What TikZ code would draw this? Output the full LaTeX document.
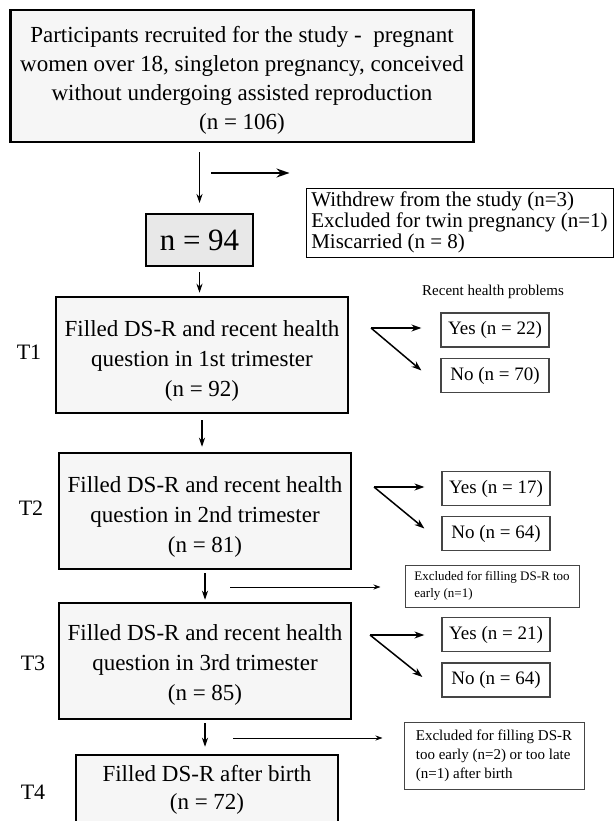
\documentclass[tikz,border=0pt]{standalone}
\usepackage{fontspec}
\setmainfont{Liberation Serif}
\usetikzlibrary{arrows.meta}
\definecolor{boxgray}{HTML}{F6F6F6}
\definecolor{ngray}{HTML}{E8E8E8}
\definecolor{thin}{HTML}{454545}
\newcommand{\fs}[2]{\fontsize{#1}{#2}\selectfont}
\newcommand{\dn}[1]{\rule{0pt}{#1}}

\begin{document}
\begin{tikzpicture}[x=1pt,y=-1pt]
  \useasboundingbox (0,0) rectangle (614,821);
  \clip (0,0) rectangle (614,821);

  \begin{scope}[every node/.style={draw, line width=2.5pt, fill=boxgray, align=center, inner sep=0pt, font=\fs{23}{30}}]
    \node[minimum width=463pt, minimum height=132pt, font=\fs{23}{29}] (rec) at (242,76) {\dn{24pt}Participants recruited for the study -\ \ pregnant\\women over 18, singleton pregnancy, conceived\\without undergoing assisted reproduction\\(n = 106)};
    \node[minimum width=107pt, minimum height=52pt, line width=2pt, fill=ngray, font=\fs{31}{36}] (n94) at (199.5,240) {n = 94};
    \node[minimum width=292pt, minimum height=116pt] (t1) at (202,355) {\dn{27pt}Filled DS-R and recent health\\question in 1st trimester\\(n = 92)};
    \node[minimum width=292pt, minimum height=116pt] (t2) at (205,511) {\dn{28pt}Filled DS-R and recent health\\question in 2nd trimester\\(n = 81)};
    \node[minimum width=292pt, minimum height=116pt] (t3) at (205,661) {\dn{24pt}Filled DS-R and recent health\\question in 3rd trimester\\(n = 85)};
    \node[minimum width=262pt, minimum height=70pt, font=\fs{23}{28}] (t4) at (207,790) {Filled DS-R after birth\\(n = 72)};
  \end{scope}

  \begin{scope}[every node/.style={font=\fs{22}{26}}]
    \node (l1) at (29,352) {T1};
    \node (l2) at (31,508) {T2};
    \node (l3) at (33,663) {T3};
    \node (l4) at (33,792) {T4};
  \end{scope}

  \node[font=\fs{15}{18}] (rhp) at (493,292) {Recent health problems};

  \begin{scope}[every node/.style={draw=thin, line width=1.2pt, minimum width=108pt, minimum height=34pt, inner sep=0pt, font=\fs{19}{22}}]
    \node (y1) at (495,330) {Yes (n = 22)};
    \node (no1) at (495,375.5) {No (n = 70)};
    \node (y2) at (496,488.5) {Yes (n = 17)};
    \node (no2) at (496,533.5) {No (n = 64)};
    \node (y3) at (496,634.5) {Yes (n = 21)};
    \node (no3) at (496,680) {No (n = 64)};
  \end{scope}

  \begin{scope}[every node/.style={draw=thin, line width=1pt, align=left, inner sep=0pt}]
    \node[draw=black, minimum width=307pt, minimum height=69pt, font=\fs{21}{21}] (out) at (459.5,222.5) {Withdrew from the study (n=3)\\Excluded for twin pregnancy (n=1)\\Miscarried (n = 8)};
    \node[minimum width=174pt, minimum height=42pt, font=\fs{13}{17}] (ex2) at (492,586) {Excluded for filling DS-R too\\early (n=1)};
    \node[minimum width=180pt, minimum height=67pt, font=\fs{15}{19}] (ex4) at (494,755.5) {Excluded for filling DS-R\\too early (n=2) or too late\\(n=1) after birth};
  \end{scope}

  \coordinate (s0) at (211,173);
  \coordinate (s1) at (371,328);
  \coordinate (s2) at (374,487);
  \coordinate (s3) at (370,635);
  \coordinate (c2) at (230,587);
  \coordinate (c3) at (233,738);

  \begin{scope}[every edge/.style={draw, line width=1.1pt, -{Stealth[length=9pt,width=6pt]}}]
    \path (rec.south -| n94) edge[shorten <=9pt, shorten >=10pt] (n94);
    \path (n94) edge[shorten <=5pt, shorten >=3pt] (n94 |- t1.north);
    \path (t1) edge[shorten <=6pt, shorten >=5pt] (t1 |- t2.north);
    \path (t2) edge[shorten <=3pt, shorten >=2pt] (t2 |- t3.north);
    \path (t3) edge[shorten <=3pt, shorten >=7pt] (t3 |- t4.north);
  \end{scope}

  \path (s0) edge[draw, line width=1.8pt, -{Stealth[length=13pt,width=9pt]}, shorten >=16pt] (s0 -| out.west);

  \begin{scope}[every edge/.style={draw, line width=1.5pt, -{Stealth[length=10pt,width=7pt]}}]
    \path (s1) edge[shorten >=19pt] (s1 -| y1.west);
    \path (s1) edge ([xshift=-19pt, yshift=5pt]no1.west);
    \path (s2) edge[shorten >=17pt] (s2 -| y2.west);
    \path (s2) edge ([xshift=-17pt, yshift=5pt]no2.west);
    \path (s3) edge[shorten >=17pt] (s3 -| y3.west);
    \path (s3) edge ([xshift=-19pt, yshift=3pt]no3.west);
  \end{scope}

  \begin{scope}[every edge/.style={draw, line width=0.8pt, -{Stealth[length=7pt,width=5pt]}}]
    \path (c2) edge[shorten >=24pt] (c2 -| ex2.west);
    \path (c3) edge[shorten >=21pt] (c3 -| ex4.west);
  \end{scope}

\end{tikzpicture}
\end{document}
